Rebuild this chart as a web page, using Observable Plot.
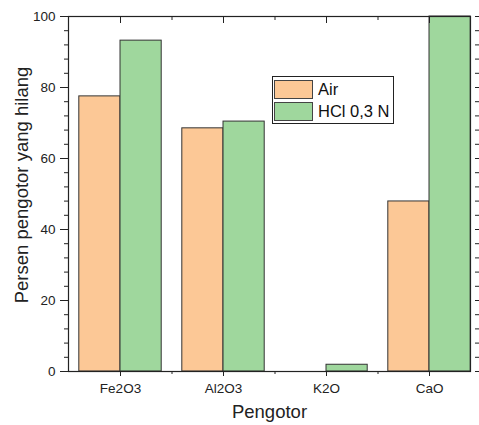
<!DOCTYPE html>
<html>
<head>
<meta charset="utf-8">
<script src="https://cdn.jsdelivr.net/npm/d3@7"></script>
<script src="https://cdn.jsdelivr.net/npm/@observablehq/plot@0.6"></script>
<style>
  body { margin: 0; background: #fff; }
  #wrap { position: relative; width: 479px; height: 425px; font-family: "Liberation Sans", Arial, sans-serif; }
  #legend { position: absolute; left: 272px; top: 76px; width: 122px; height: 48px; border: 1px solid #222; background: #fff; box-sizing: border-box; }
  .row { position: absolute; left: 1px; height: 20px; display: flex; align-items: center; }
  .sw { width: 39px; height: 19px; border: 1px solid #444; box-sizing: border-box; }
  .lab { margin-left: 5px; font-size: 16.5px; color: #111; line-height: 20px; }
</style>
</head>
<body>
<div id="wrap"></div>
<script>
const categories = ["Fe2O3", "Al2O3", "K2O", "CaO"];
const seriesNames = ["Air", "HCl 0,3 N"];
const airValues = [77.5, 68.5, 0, 47.9];
const hclValues = [93.2, 70.4, 1.9, 100];
const yTicks = [0, 20, 40, 60, 80, 100];
const colors = ["#fcc896", "#9fd79d"];

const rows = [];
categories.forEach((c, i) => {
  rows.push({cat: c, i: i + 1, series: seriesNames[0], value: airValues[i]});
  rows.push({cat: c, i: i + 1, series: seriesNames[1], value: hclValues[i]});
});

const catIdx = categories.map((c, i) => i + 1);
const minorX = catIdx.slice(0, -1).map(v => v + 0.5);
const minorY = d3.range(0, 101, 4).filter(v => v % 20 !== 0);
const halfW = 0.4;

const chart = Plot.plot({
  width: 479,
  height: 425,
  marginLeft: 68,
  marginRight: 9,
  marginTop: 16,
  marginBottom: 54,
  style: {fontFamily: "Liberation Sans, Arial, sans-serif", fontSize: "13.5px", color: "#222", background: "#fff"},
  x: {type: "linear", domain: [0.4951, 4.398], axis: null},
  y: {domain: [0, 100], axis: null},
  color: {domain: seriesNames, range: colors},
  marks: [
    Plot.rectY(rows, {
      x1: d => d.series === seriesNames[0] ? d.i - halfW : d.i,
      x2: d => d.series === seriesNames[0] ? d.i : d.i + halfW,
      y1: 0,
      y2: "value",
      fill: "series",
      stroke: "#333",
      strokeWidth: 1
    }),
    Plot.frame({stroke: "#222", strokeWidth: 1.2}),
    Plot.axisX({anchor: "bottom", ticks: catIdx, tickSize: 5, tickPadding: 7, tickFormat: d => categories[d - 1], label: null, fontSize: 13.5}),
    Plot.axisX({anchor: "bottom", ticks: minorX, tickSize: 3, tickFormat: () => "", label: null}),
    Plot.axisX({anchor: "top", ticks: catIdx, tickSize: -6, tickFormat: () => "", label: null}),
    Plot.axisX({anchor: "top", ticks: minorX, tickSize: -3, tickFormat: () => "", label: null}),
    Plot.axisY({anchor: "left", ticks: yTicks, tickSize: 8, tickPadding: 5, label: null, fontSize: 13.5}),
    Plot.axisY({anchor: "left", ticks: minorY, tickSize: 4, tickFormat: () => "", label: null}),
    Plot.axisY({anchor: "right", ticks: yTicks, tickSize: 8, dx: 4, tickFormat: () => "", label: null}),
    Plot.axisY({anchor: "right", ticks: minorY, tickSize: 4, dx: 4, tickFormat: () => "", label: null}),
    Plot.text(["Pengotor"], {frameAnchor: "bottom", dy: 41, lineAnchor: "middle", fontSize: 18.5, fill: "#222"}),
    Plot.text(["Persen pengotor yang hilang"], {frameAnchor: "left", rotate: -90, dx: -46, dy: -9, lineAnchor: "middle", textAnchor: "middle", fontSize: 18.5, fill: "#222"})
  ]
});

const wrap = document.getElementById("wrap");
wrap.appendChild(chart);

const legend = document.createElement("div");
legend.id = "legend";
seriesNames.forEach((s, k) => {
  const row = document.createElement("div");
  row.className = "row";
  row.style.top = (2 + k * 22) + "px";
  const sw = document.createElement("div");
  sw.className = "sw";
  sw.style.background = colors[k];
  const lab = document.createElement("span");
  lab.className = "lab";
  lab.textContent = s;
  row.appendChild(sw);
  row.appendChild(lab);
  legend.appendChild(row);
});
wrap.appendChild(legend);
</script>
</body>
</html>
